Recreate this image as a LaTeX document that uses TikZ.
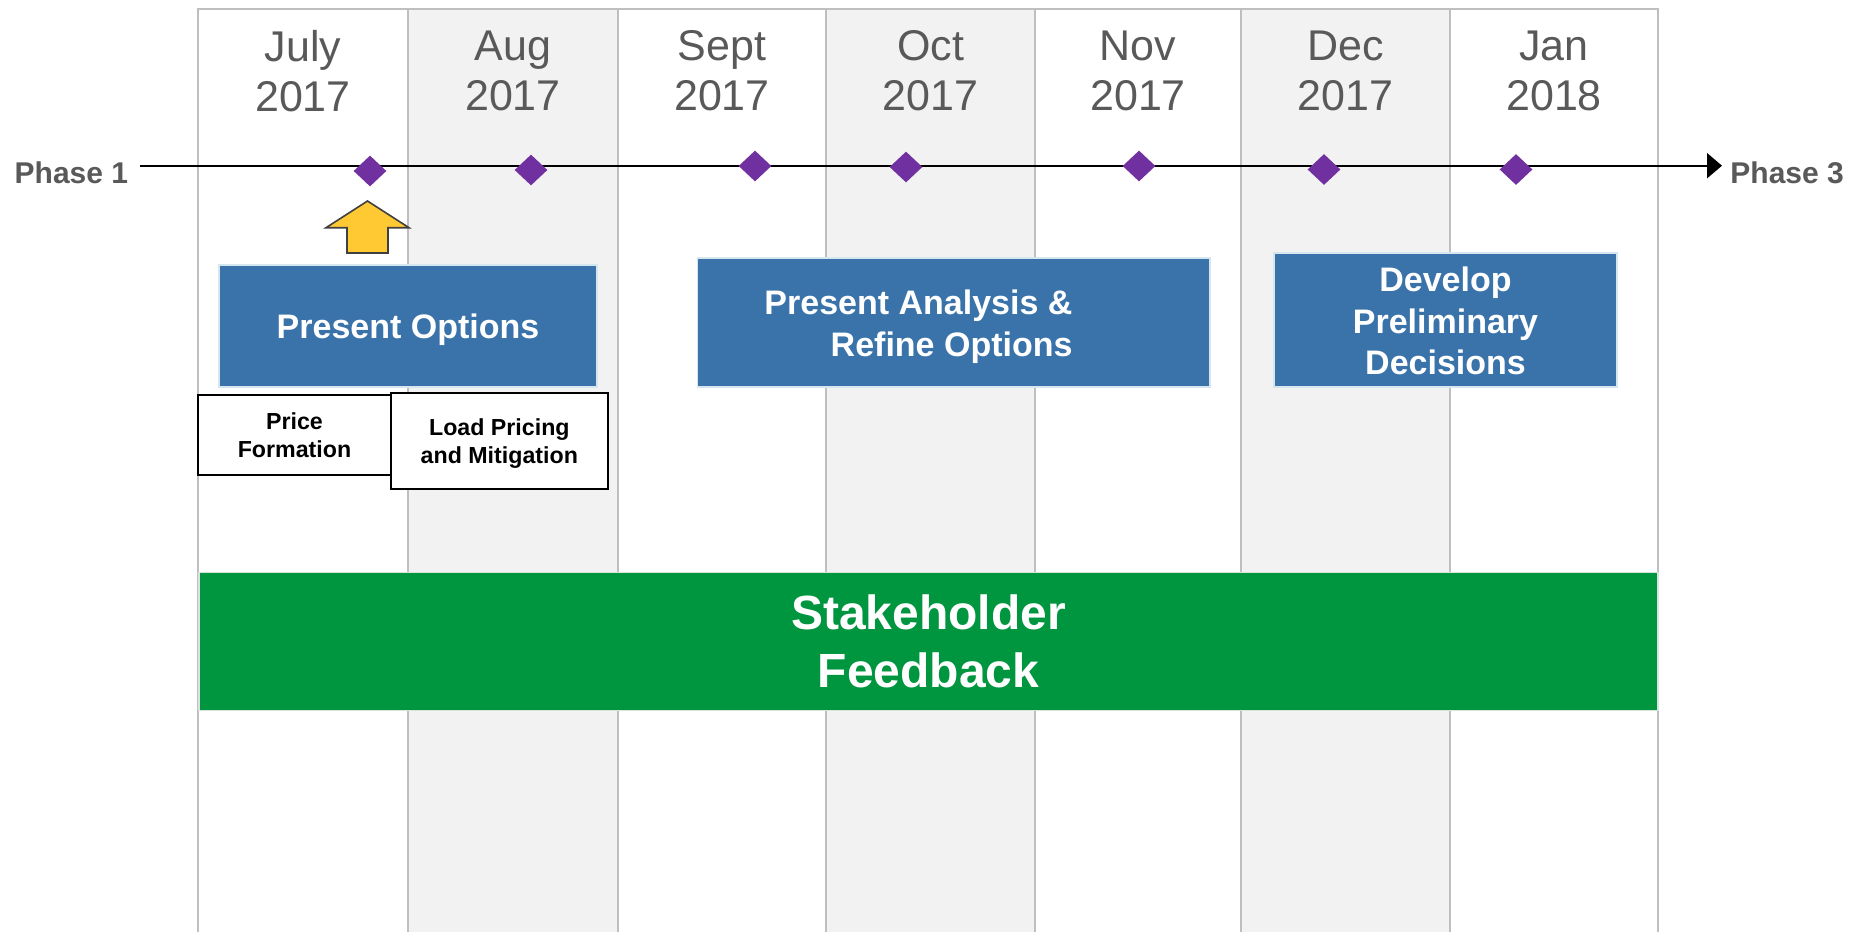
\documentclass[tikz,border=0pt]{standalone}
\usepackage{fontspec}
\setmainfont{Liberation Sans}
\usetikzlibrary{shapes.geometric,arrows.meta}
\definecolor{gridgray}{HTML}{BFBFBF}
\definecolor{shadegray}{HTML}{F2F2F2}
\definecolor{monthgray}{HTML}{595959}
\definecolor{boxblue}{HTML}{3A73A9}
\definecolor{boxedge}{HTML}{D6E6EE}
\definecolor{fbgreen}{HTML}{00953F}
\definecolor{greenedge}{HTML}{D9E2DC}
\definecolor{purp}{HTML}{7030A0}
\definecolor{arrowyellow}{HTML}{FFC933}
\definecolor{arrowedge}{HTML}{404040}
\begin{document}
\begin{tikzpicture}[x=0.5pt,y=-0.5pt,
  gridline/.style={draw=gridgray,line width=1pt},
  month/.style={text=monthgray,align=center,inner sep=0pt,font=\fontsize{21.5}{25}\selectfont},
  phase/.style={text=monthgray,inner sep=0pt,font=\bfseries\fontsize{15}{18}\selectfont},
  timeline/.style={draw=black,line width=1pt,-{Triangle[length=7.5pt,width=12.5pt]}},
  milestone/.style={shape=diamond,fill=purp,draw=none,inner sep=0pt,minimum width=16.5pt,minimum height=15.5pt},
  uparrowshape/.style={fill=arrowyellow,draw=arrowedge,line width=0.8pt,line join=miter},
  bluebox/.style={fill=boxblue,draw=boxedge,line width=0.9pt,inner sep=0pt,text=white,align=center,font=\bfseries\fontsize{17}{20.8}\selectfont},
  bluetext/.style={text=white,inner sep=0pt,font=\bfseries\fontsize{17}{20.8}\selectfont},
  smallbox/.style={fill=white,draw=black,line width=1pt,inner sep=0pt},
  smalltext/.style={inner sep=0pt,align=center,font=\bfseries\fontsize{11.6}{14.15}\selectfont},
  greenbox/.style={fill=fbgreen,draw=greenedge,line width=0.9pt,inner sep=0pt,text=white,align=center,font=\bfseries\fontsize{24}{28.7}\selectfont}
]
\useasboundingbox (0,0) rectangle (1850,932);
\fill[white] (0,0) rectangle (1850,932);
% shaded month columns
\fill[shadegray] (408,9.3) rectangle (618,932);
\fill[shadegray] (826,9.3) rectangle (1035,932);
\fill[shadegray] (1241,9.3) rectangle (1450,932);
% grid lines
\draw[gridline] (198,932) -- (198,9.3) -- (1658,9.3) -- (1658,932);
\foreach \xx in {408,618,826,1035,1241,1450} \draw[gridline] (\xx,9.3) -- (\xx,932);
% month labels
\node[month] (mjul) at (303,71) {July\\2017};
\node[month] (maug) at (513,71) {Aug\\2017};
\node[month] (msep) at (722,71) {Sept\\2017};
\node[month] (moct) at (930.5,71) {Oct\\2017};
\node[month] (mnov) at (1138,71) {Nov\\2017};
\node[month] (mdec) at (1345.5,71) {Dec\\2017};
\node[month] (mjan) at (1554,71) {Jan\\2018};
% phases and timeline
\node[phase,anchor=base east] (ph1) at (128.5,183) {Phase 1};
\node[phase,anchor=base west] (ph3) at (1730,183) {Phase 3};
\coordinate (tlstart) at (140,165.7);
\coordinate (tlend) at (1722,165.7);
\draw[timeline] (tlstart) -- (tlend);
% milestones
\node[milestone] (d1) at (370,171) {};
\node[milestone] (d2) at (531,170) {};
\node[milestone] (d3) at (755,166) {};
\node[milestone] (d4) at (906,167) {};
\node[milestone] (d5) at (1139,166) {};
\node[milestone] (d6) at (1324,169.5) {};
\node[milestone] (d7) at (1516,169.5) {};
% yellow up arrow
\draw[uparrowshape] (367.5,201) -- (409,227.7) -- (388,227.7) -- (388,253) -- (347,253) -- (347,227.7) -- (326,227.7) -- cycle;
% blue boxes
\node[bluebox,minimum width=189pt,minimum height=60.85pt] (pobox) at (408,325.9) {};
\node[bluetext] (po) at (408,330) {Present Options};
\node[bluebox,minimum width=256.3pt,minimum height=64.65pt] (pabox) at (953.7,322.65) {};
\node[bluetext,align=right] (pa) at (918.5,327) {Present Analysis \&\\Refine Options};
\node[bluebox,minimum width=171.5pt,minimum height=67.3pt] (devbox) at (1445.5,320) {};
\node[bluetext,align=center] (dev) at (1445.5,321) {Develop\\Preliminary\\Decisions};
% small boxes
\node[smallbox,minimum width=96.5pt,minimum height=40pt] (pfbox) at (294.5,435) {};
\node[smalltext] (pf) at (294.5,435.5) {Price\\Formation};
\node[smallbox,minimum width=108.35pt,minimum height=48.15pt] (lpbox) at (499.35,440.85) {};
\node[smalltext] (lp) at (499.35,443.5) {Load Pricing\\and Mitigation};
% stakeholder feedback
\node[greenbox,minimum width=729.5pt,minimum height=69pt] (sf) at (928.5,641.5) {Stakeholder\\Feedback};
\end{tikzpicture}
\end{document}
